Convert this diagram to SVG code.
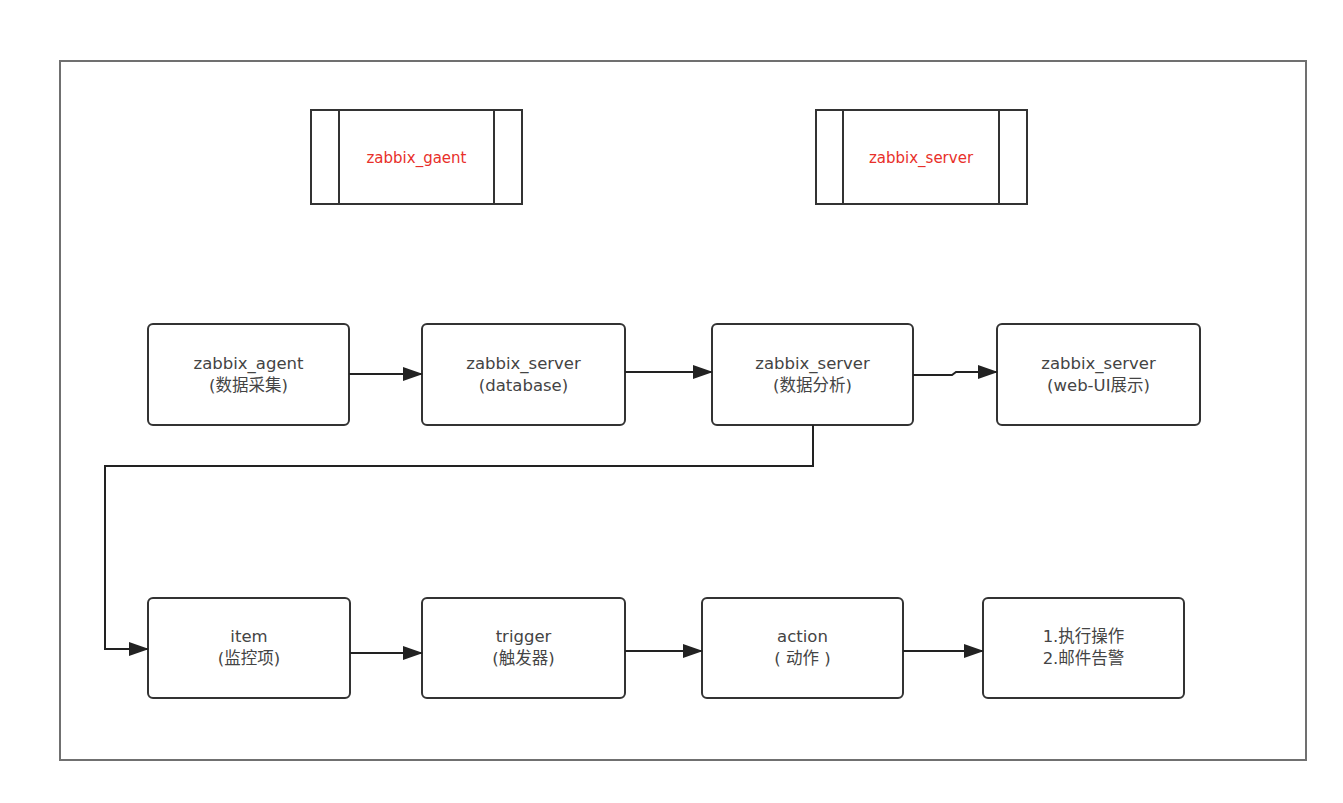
<svg xmlns="http://www.w3.org/2000/svg" width="1343" height="803" viewBox="0 0 1343 803">
<defs>
<marker id="arr" markerWidth="20" markerHeight="14" refX="19" refY="7" orient="auto" markerUnits="userSpaceOnUse">
<path d="M0,0 L20,7 L0,14 Z" fill="#222"/>
</marker>
<style>
.frame{fill:#fff;stroke:#707070;stroke-width:2}
.box{fill:#fff;stroke:#333;stroke-width:2}
.proc{fill:#fff;stroke:#333;stroke-width:2}
.t{font-family:"DejaVu Sans","Noto Sans CJK SC",sans-serif;font-size:16.5px;fill:#444;text-anchor:middle}
.r{font-family:"DejaVu Sans","Noto Sans CJK SC",sans-serif;font-size:15px;fill:#e8302a;text-anchor:middle}
.c{fill:none;stroke:#222;stroke-width:2}
</style>
</defs>
<rect width="1343" height="803" fill="#fff"/>
<rect id="frame" class="frame" x="60" y="61" width="1246" height="699"/>

<g id="proc-agent">
<rect class="proc" x="311" y="110" width="211" height="94"/>
<line class="proc" x1="339" y1="110" x2="339" y2="204"/>
<line class="proc" x1="494" y1="110" x2="494" y2="204"/>
<text class="r" x="416.5" y="163">zabbix_gaent</text>
</g>
<g id="proc-server">
<rect class="proc" x="816" y="110" width="211" height="94"/>
<line class="proc" x1="843" y1="110" x2="843" y2="204"/>
<line class="proc" x1="999" y1="110" x2="999" y2="204"/>
<text class="r" x="921" y="163">zabbix_server</text>
</g>

<g id="n-agent">
<rect class="box" x="148" y="324" width="201" height="101" rx="5"/>
<text class="t" x="248.5" y="369">zabbix_agent</text>
<text class="t" x="248.5" y="391">(数据采集)</text>
</g>
<g id="n-db">
<rect class="box" x="422" y="324" width="203" height="101" rx="5"/>
<text class="t" x="523.5" y="369">zabbix_server</text>
<text class="t" x="523.5" y="391">(database)</text>
</g>
<g id="n-analysis">
<rect class="box" x="712" y="324" width="201" height="101" rx="5"/>
<text class="t" x="812.5" y="369">zabbix_server</text>
<text class="t" x="812.5" y="391">(数据分析)</text>
</g>
<g id="n-web">
<rect class="box" x="997" y="324" width="203" height="101" rx="5"/>
<text class="t" x="1098.5" y="369">zabbix_server</text>
<text class="t" x="1098.5" y="391">(web-UI展示)</text>
</g>

<g id="n-item">
<rect class="box" x="148" y="598" width="202" height="100" rx="5"/>
<text class="t" x="249" y="642">item</text>
<text class="t" x="249" y="664">(监控项)</text>
</g>
<g id="n-trigger">
<rect class="box" x="422" y="598" width="203" height="100" rx="5"/>
<text class="t" x="523.5" y="642">trigger</text>
<text class="t" x="523.5" y="664">(触发器)</text>
</g>
<g id="n-action">
<rect class="box" x="702" y="598" width="201" height="100" rx="5"/>
<text class="t" x="802.5" y="642">action</text>
<text class="t" x="802.5" y="664">( 动作 )</text>
</g>
<g id="n-result">
<rect class="box" x="983" y="598" width="201" height="100" rx="5"/>
<text class="t" x="1083.5" y="642">1.执行操作</text>
<text class="t" x="1083.5" y="664">2.邮件告警</text>
</g>

<g id="connectors">
<path class="c" d="M349,374 H422" marker-end="url(#arr)"/>
<path class="c" d="M625,372 H712" marker-end="url(#arr)"/>
<path class="c" d="M913,375 H952 L956,372 H997" marker-end="url(#arr)"/>
<path class="c" d="M813,425 V466 H105 V649 H148" marker-end="url(#arr)"/>
<path class="c" d="M350,653 H422" marker-end="url(#arr)"/>
<path class="c" d="M625,651 H702" marker-end="url(#arr)"/>
<path class="c" d="M903,651 H983" marker-end="url(#arr)"/>
</g>
</svg>
